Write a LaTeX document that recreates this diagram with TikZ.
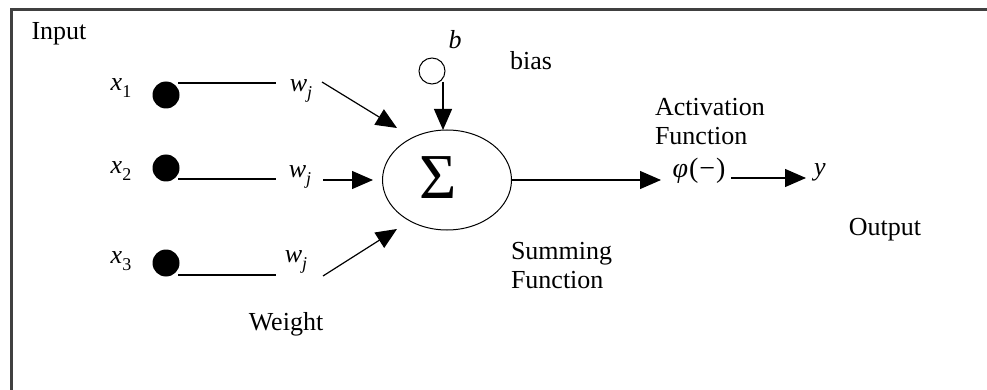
\documentclass[tikz,border=0pt]{standalone}
\usepackage{fontspec}
\setmainfont{Liberation Serif}
\usetikzlibrary{arrows.meta,shapes.geometric}
\newcommand{\mysubs}[1]{\raisebox{-0.28em}{\fontsize{18}{18}\selectfont #1}}
\begin{document}
\begin{tikzpicture}[x=1pt,y=-1pt,
  every node/.style={font=\fontsize{26}{30}\selectfont, inner sep=0pt, outer sep=0pt},
  frameline/.style={line width=3pt, draw=black!75},
  wire/.style={line width=1.2pt},
  arr/.style={line width=1.2pt, -{Triangle[length=21pt,width=18pt]}},
  indot/.style={circle, fill=black, minimum size=27pt},
  biasdot/.style={circle, draw, line width=1pt, fill=white, minimum size=26pt},
  sumell/.style={ellipse, draw, line width=1pt, minimum width=129pt, minimum height=100pt},
  twoline/.style={align=left, anchor=north west, font=\fontsize{26}{29.5}\selectfont}]
\useasboundingbox (0,0) rectangle (987,390);
% frame (top and left edges)
\coordinate (fbl) at (11,390);
\coordinate (ftl) at (11,9.5);
\coordinate (ftr) at (987,9.5);
\draw[frameline] (fbl) -- (ftl) -- (ftr);
% labels
\node (input) at (59,34) {Input};
\node (x1) at (121,88) {\textit{x}\mysubs{1}};
\node (x2) at (121,171) {\textit{x}\mysubs{2}};
\node (x3) at (121,261) {\textit{x}\mysubs{3}};
\node[indot] (d1) at (166,95) {};
\node[indot] (d2) at (166,168) {};
\node[indot] (d3) at (166,263) {};
\node (w1) at (301,91) {\textit{w}\mysubs{\textit{j}}};
\node (w2) at (300,177) {\textit{w}\mysubs{\textit{j}}};
\node (w3) at (296,262) {\textit{w}\mysubs{\textit{j}}};
\node (weight) at (286,324) {Weight};
% summing junction
\node[sumell] (sum) at (447,180) {};
\node (sig) at (438,178) {\fontsize{64}{64}\selectfont Σ};
\node (blabel) at (455,40) {\textit{b}};
\node[biasdot] (bc) at (432,71) {};
\node (bias) at (531,61) {bias};
\node[twoline] (sumf) at (511,242) {Summing\\Function};
\node[twoline] (actf) at (655,98) {Activation\\Function};
\node (phi) at (699,171) {\fontsize{28}{30}\selectfont\textit{φ}\kern1pt(\kern1pt−\kern1pt)};
\node (yout) at (820,172) {\textit{y}};
\node (output) at (885,230) {Output};
% input wires
\coordinate (l1a) at (178,83);  \coordinate (l1b) at (276,83);
\coordinate (l2a) at (178,179); \coordinate (l2b) at (276,179);
\coordinate (l3a) at (178,275); \coordinate (l3b) at (276,275);
\draw[wire] (l1a) -- (l1b);
\draw[wire] (l2a) -- (l2b);
\draw[wire] (l3a) -- (l3b);
% weighted arrows
\coordinate (a1s) at (322,82);  \coordinate (a1e) at (397,128);
\coordinate (a2s) at (323,180); \coordinate (a2e) at (373,180);
\coordinate (a3s) at (323,276); \coordinate (a3e) at (397,229);
\draw[arr] (a1s) -- (a1e);
\draw[arr] (a2s) -- (a2e);
\draw[arr] (a3s) -- (a3e);
% bias arrow
\coordinate (bs) at (443,82);
\coordinate (be) at (443,130);
\draw[arr] (bs) -- (be);
% output of sum to activation
\coordinate (oe) at (661,180);
\draw[arr] (sum.east) -- (oe);
% activation to y
\coordinate (ys) at (731,178);
\coordinate (ye) at (806,178);
\draw[arr] (ys) -- (ye);
\end{tikzpicture}
\end{document}
